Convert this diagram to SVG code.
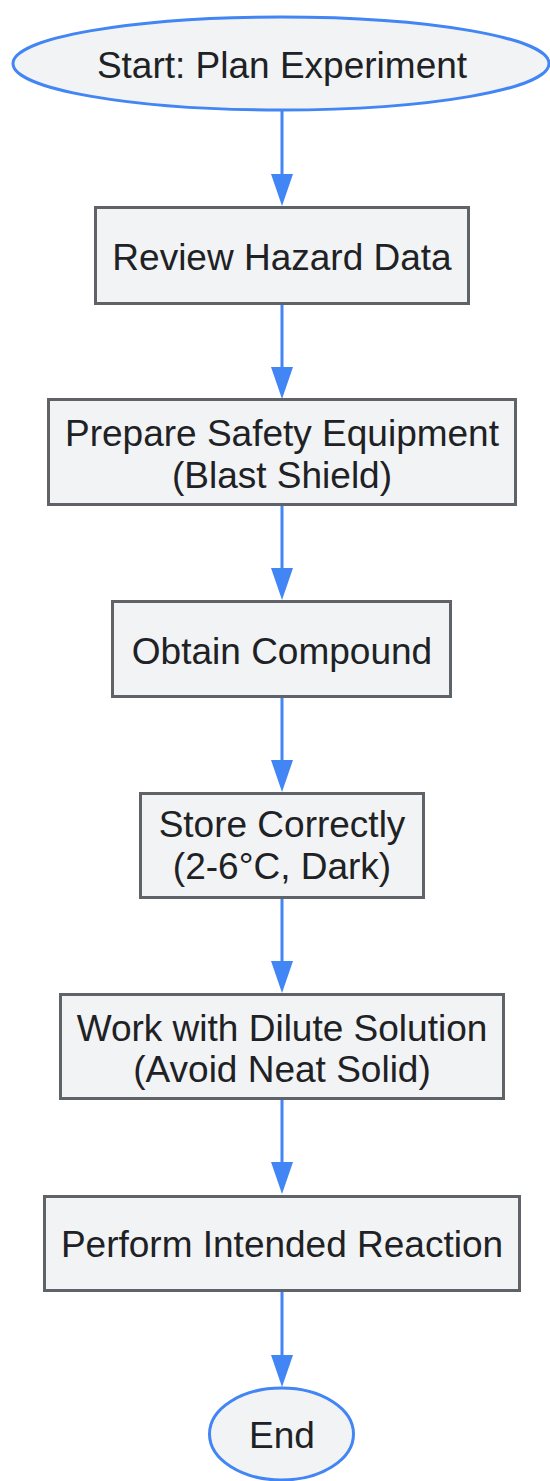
<svg xmlns="http://www.w3.org/2000/svg" width="550" height="1481" viewBox="0 0 550 1481">
  <style>
    .term { fill: #f1f3f4; stroke: #4285f4; stroke-width: 3; }
    .box { fill: #f1f3f4; stroke: #5f6368; stroke-width: 3; }
    .lbl { font-family: "Liberation Sans", Arial, sans-serif; font-size: 37px; fill: #202124; text-anchor: middle; }
    .edge { stroke: #4285f4; stroke-width: 3; fill: none; marker-end: url(#arrow); }
  </style>
  <defs>
    <marker id="arrow" markerUnits="userSpaceOnUse" markerWidth="32" markerHeight="22" refX="22" refY="11" orient="auto" viewBox="0 0 32 22">
      <path d="M0,0 L32,11 L0,22 Z" fill="#4285f4"/>
    </marker>
  </defs>
  <rect width="550" height="1481" fill="#ffffff"/>
  <g id="connectors">
    <line class="edge" x1="282" y1="111" x2="282" y2="196"/>
    <line class="edge" x1="282" y1="304" x2="282" y2="389"/>
    <line class="edge" x1="282" y1="506" x2="282" y2="590"/>
    <line class="edge" x1="282" y1="698" x2="282" y2="782"/>
    <line class="edge" x1="282" y1="899" x2="282" y2="983"/>
    <line class="edge" x1="282" y1="1100" x2="282" y2="1184"/>
    <line class="edge" x1="282" y1="1292" x2="282" y2="1377"/>
  </g>
  <g id="start">
    <ellipse class="term" cx="281" cy="63.5" rx="268" ry="46.5"/>
    <text class="lbl" x="282" y="78">Start: Plan Experiment</text>
  </g>
  <g id="review">
    <rect class="box" x="95.5" y="207.5" width="373" height="96"/>
    <text class="lbl" x="282" y="270">Review Hazard Data</text>
  </g>
  <g id="prepare">
    <rect class="box" x="48.5" y="399.5" width="467" height="105"/>
    <text class="lbl" x="282" y="446">Prepare Safety Equipment</text>
    <text class="lbl" x="282" y="488">(Blast Shield)</text>
  </g>
  <g id="obtain">
    <rect class="box" x="112.5" y="601.5" width="338" height="95"/>
    <text class="lbl" x="282" y="664">Obtain Compound</text>
  </g>
  <g id="store">
    <rect class="box" x="140.5" y="793.5" width="283" height="104"/>
    <text class="lbl" x="282" y="837">Store Correctly</text>
    <text class="lbl" x="282" y="879">(2-6°C, Dark)</text>
  </g>
  <g id="dilute">
    <rect class="box" x="60.5" y="994.5" width="443" height="104"/>
    <text class="lbl" x="282" y="1041">Work with Dilute Solution</text>
    <text class="lbl" x="282" y="1082">(Avoid Neat Solid)</text>
  </g>
  <g id="perform">
    <rect class="box" x="44.5" y="1196.5" width="475" height="94"/>
    <text class="lbl" x="282" y="1257">Perform Intended Reaction</text>
  </g>
  <g id="end">
    <ellipse class="term" cx="281.5" cy="1434" rx="72" ry="46"/>
    <text class="lbl" x="282" y="1448">End</text>
  </g>
</svg>
